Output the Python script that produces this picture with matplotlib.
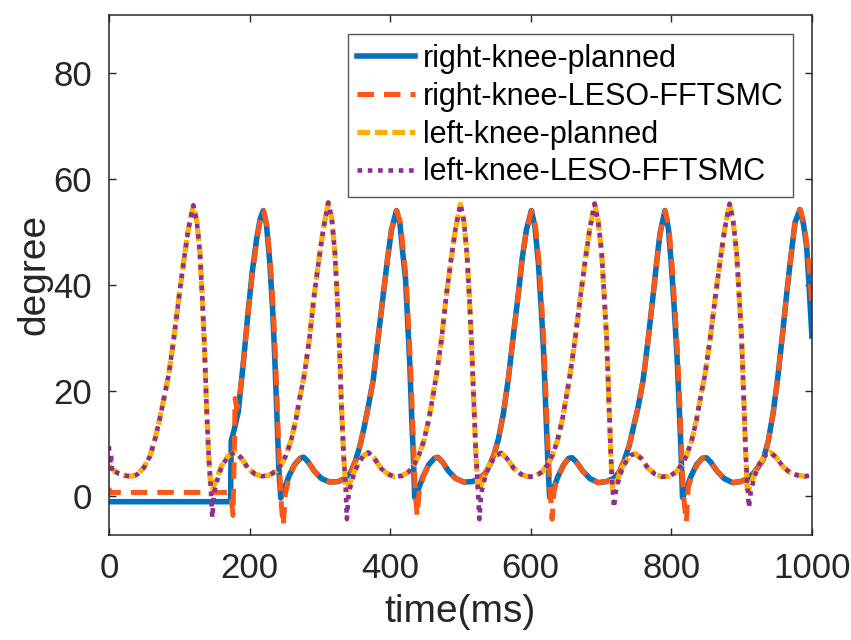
import matplotlib
matplotlib.use('Agg')
import matplotlib.pyplot as plt

# right knee planned trajectory (time in ms, angle in degree)
t_right_plan = [0, 173, 174, 178, 184, 191, 198, 204, 210, 215, 219.5, 224, 229, 233, 236, 239, 242, 244.5,
                249, 256, 264, 272, 277, 283, 292, 302, 314, 326, 336, 344, 351, 357, 363, 369, 376, 383, 390, 396, 402, 409,
                414, 418, 422, 425, 428, 431, 433, 435,
                440, 447, 455, 463, 468, 474, 483, 493, 505, 517, 527, 535, 542, 548, 554, 561, 568, 575, 582, 588, 594, 601,
                606, 611, 615, 618, 621, 624, 627,
                632, 639, 647, 654, 659, 665, 674, 684, 696, 708, 718, 726, 733, 740, 747, 753, 760, 767, 774, 779, 784, 791,
                796, 800, 804, 808, 811, 814, 816,
                821, 828, 836, 844, 850, 856, 865, 875, 887, 899, 909, 917, 924, 931, 938, 945, 952, 959, 964, 969, 976, 983,
                988, 992.5, 996, 1000]
right_plan = [-1, -1, 10.5, 12.5, 16, 25, 34.8, 42.5, 48.5, 52.3, 54.0, 51.5, 44, 35, 26, 15, 4.5, -0.3,
              1.3, 3.8, 6.0, 7.2, 7.4, 6.6, 4.8, 3.4, 2.7, 2.8, 3.4, 4.6, 6.8, 9.5, 13, 17, 22, 30, 37.8, 44.5, 50.4, 54.0,
              51.5, 46, 41, 33, 25, 14, 8, -0.2,
              1.3, 3.8, 6.0, 7.2, 7.4, 6.6, 4.8, 3.4, 2.7, 2.8, 3.4, 4.3, 6.0, 8.0, 10.8, 15.5, 22, 30, 37.8, 45, 50.4, 54.0,
              51, 44, 35.5, 28.4, 18, 8, -0.2,
              1.3, 3.8, 6.0, 7.2, 7.3, 6.5, 4.8, 3.4, 2.6, 2.8, 3.4, 4.6, 6.8, 9.5, 13.5, 17, 22, 29.5, 37.8, 44, 49.7, 54.0,
              50.5, 44, 36, 27, 18, 8, -0.2,
              1.3, 3.8, 6.0, 7.2, 7.3, 6.5, 4.8, 3.4, 2.6, 2.8, 3.4, 4.4, 5.6, 7.0, 10.5, 15.8, 23, 31.6, 38, 44, 51.7, 54.2,
              51.5, 47.3, 40, 30.3]

# right knee tracked by LESO-FFTSMC
t_right_ctrl = [0, 1.5, 3, 172, 174.5, 176.5, 178, 179.5, 182, 186, 191, 198, 204, 210, 215, 220, 225, 230, 234, 237, 240, 243, 245.5, 248, 251,
                256, 264, 272, 277, 283, 292, 302, 314, 326, 336, 344, 351, 357, 363, 369, 376, 383, 390, 396, 402, 409.5,
                415, 419, 423, 426, 429, 432, 434, 436, 438.5, 441, 443,
                448, 455, 463, 468, 474, 483, 493, 505, 517, 527, 535, 542, 548, 554, 561, 568, 575, 582, 588, 594, 601.5,
                607, 612, 616, 619, 622, 625, 628, 630.5, 633, 636,
                640, 647, 654, 659, 665, 674, 684, 696, 708, 718, 726, 733, 740, 747, 753, 760, 767, 774, 779, 784, 791.5,
                797, 801, 805, 809, 812, 815, 817, 819, 821.5, 824, 827,
                832, 838, 844, 850, 856, 865, 875, 887, 899, 909, 917, 924, 931, 938, 945, 952, 959, 964, 969, 976, 983.5,
                989, 993.5, 997, 1000]
right_ctrl = [1.6, 0.6, 0.75, 0.75, -1, -3.6, 6, 18.5, 16.5, 19, 25, 34.5, 42, 48, 52, 54.0, 51, 43.5, 35, 26, 15, 4.5, -2, -5.5, 0.5,
              3.5, 6.0, 7.2, 7.4, 6.6, 4.8, 3.4, 2.7, 2.8, 3.4, 4.6, 6.8, 9.5, 13, 17, 22, 30, 37.8, 44.5, 50.4, 54.0,
              51.5, 46, 41, 33, 25, 14, 8, 0.5, -3.7, 0.5, 1.8,
              4.0, 6.0, 7.2, 7.4, 6.6, 4.8, 3.4, 2.7, 2.8, 3.4, 4.3, 6.0, 8.0, 10.8, 15.5, 22, 30, 37.8, 45, 50.4, 54.0,
              51, 44, 35.5, 28.4, 18, 8, 0.5, -4.3, 0.8, 2.5,
              4.0, 6.0, 7.2, 7.3, 6.5, 4.8, 3.4, 2.6, 2.8, 3.4, 4.6, 6.8, 9.5, 13.5, 17, 22, 29.5, 37.8, 44, 49.7, 54.0,
              50.5, 44, 36, 27, 18, 8, 1, -2, -4.9, 1.5, 3.0,
              4.8, 6.2, 7.2, 7.3, 6.5, 4.8, 3.4, 2.6, 2.8, 3.4, 4.4, 5.6, 7.0, 10.5, 15.8, 23, 31.6, 38, 44, 51.7, 54.2,
              51.5, 47, 42, 36]

# left knee planned trajectory
t_left_plan = [0, 6, 14, 24, 32, 40, 50, 58, 65, 72, 79, 85, 92, 100, 107, 113, 120,
               125, 129.5, 133, 136, 139, 142, 145, 147, 152, 160, 170, 179, 188, 198, 208, 218, 228, 238, 246, 252, 259, 266, 272, 278, 285, 292, 299, 305, 312,
               317, 321.5, 325, 328, 331, 334, 337, 339, 344, 352, 362, 369, 377, 387, 397, 407, 417, 427, 435, 441, 448, 455, 461, 466, 473, 480, 487, 493, 500,
               505, 509.5, 513, 516, 519, 522, 525, 527, 532, 540, 550, 558, 566, 576, 586, 596, 606, 616, 625, 631, 638, 645, 651, 656, 663, 671, 678, 684, 691,
               696, 701, 704.5, 708, 711, 714, 716.5, 718.5, 723, 731, 741, 749, 757, 767, 777, 787, 797, 807, 816, 822, 829, 836, 842, 848, 855, 863, 870, 876, 883,
               888, 893, 896.5, 900, 903, 906, 908, 910, 915, 923, 933, 941, 949, 959, 969, 979, 990, 1000]
left_plan = [5.8, 5.0, 4.3, 3.9, 3.8, 4.1, 5.5, 7.5, 10.5, 14.5, 19, 23, 29.5, 38, 45, 50.5, 54.8,
             52, 46, 37, 28, 16.5, 7.5, 1.5, 1.2, 3.0, 5.7, 7.7, 8.3, 7.3, 5.3, 4.2, 3.8, 4.0, 4.8, 6.2, 7.8, 10.5, 14.5, 19, 23, 29.5, 38, 45, 50.5, 55.5,
             52.5, 46, 37, 28, 16.5, 7.5, 1.5, 1.2, 3.0, 5.7, 7.7, 8.3, 7.3, 5.3, 4.2, 3.7, 3.9, 4.7, 6.2, 7.8, 10.5, 14.5, 19, 23, 29.5, 38, 45, 50.5, 55.2,
             52, 45.5, 37, 28.5, 18, 8, 1.5, 1.2, 3.0, 5.7, 7.7, 8.2, 7.2, 5.3, 4.2, 3.7, 3.8, 4.6, 6.2, 7.8, 10.5, 14.5, 19, 23, 29.5, 38, 45, 50.5, 55.3,
             52, 46, 38, 30, 19, 8, 1.5, 1.2, 3.0, 5.7, 7.7, 8.1, 7.2, 5.3, 4.2, 3.7, 3.8, 4.6, 6.2, 7.8, 10.5, 14.5, 19, 23, 29.5, 38, 45, 50.5, 55.3,
             52, 46, 38, 30, 19, 8, 1.5, 1.2, 3.0, 5.7, 7.7, 8.3, 7.4, 5.6, 4.5, 4.0, 3.8, 4.0]

# left knee tracked by LESO-FFTSMC
t_left_ctrl = [0, 1.5, 3, 4.5, 7, 14, 24, 32, 40, 50, 58, 65, 72, 79, 85, 92, 100, 107, 113, 120,
               125, 129.5, 133, 136, 139, 142, 144.5, 147, 149.5, 152, 156, 162, 170, 179, 188, 198, 208, 218, 228, 238, 246, 252, 259, 266, 272, 278, 285, 292, 299, 305, 312,
               317, 321.5, 325, 328, 331, 334, 336.5, 338.5, 341, 344, 348, 354, 362, 369, 377, 387, 397, 407, 417, 427, 435, 441, 448, 455, 461, 466, 473, 480, 487, 493, 500,
               505, 509.5, 513, 516, 519, 522, 524.5, 527, 529.5, 532, 536, 542, 550, 558, 566, 576, 586, 596, 606, 616, 625, 631, 638, 645, 651, 656, 663, 671, 678, 684, 691,
               696, 701, 704.5, 708, 711, 714, 716, 718.5, 721, 723.5, 727, 733, 741, 749, 757, 767, 777, 787, 797, 807, 816, 822, 829, 836, 842, 848, 855, 863, 870, 876, 883,
               888, 893, 896.5, 900, 903, 906, 908, 910.5, 913, 915.5, 919, 925, 933, 941, 949, 959, 969, 979, 990, 1000]
left_ctrl = [9.5, 6.0, 8.0, 4.5, 4.8, 4.3, 3.9, 3.8, 4.1, 5.5, 7.5, 10.5, 14.5, 19, 23, 29.5, 38, 45, 50.5, 55.0,
             52, 46, 37, 28, 16.5, 7.5, 2.5, -4.0, 0.5, 2.0, 4.0, 6.0, 7.7, 8.3, 7.3, 5.3, 4.2, 3.8, 4.0, 4.8, 6.2, 7.8, 10.5, 14.5, 19, 23, 29.5, 38, 45, 50.5, 55.5,
             52.5, 46, 37, 28, 16.5, 7.5, 2.5, -4.3, 0.5, 2.0, 4.0, 6.0, 7.7, 8.3, 7.3, 5.3, 4.2, 3.7, 3.9, 4.7, 6.2, 7.8, 10.5, 14.5, 19, 23, 29.5, 38, 45, 50.5, 55.2,
             52, 45.5, 37, 28.5, 18, 8, 2.5, -4.3, 0.5, 2.0, 4.0, 6.0, 7.7, 8.2, 7.2, 5.3, 4.2, 3.7, 3.8, 4.6, 6.2, 7.8, 10.5, 14.5, 19, 23, 29.5, 38, 45, 50.5, 55.3,
             52, 46, 38, 30, 19, 8, 2.5, -2.1, 0.8, 2.2, 4.0, 6.0, 7.7, 8.1, 7.2, 5.3, 4.2, 3.7, 3.8, 4.6, 6.2, 7.8, 10.5, 14.5, 19, 23, 29.5, 38, 45, 50.5, 55.3,
             52, 46, 38, 30, 19, 8, 2.5, -2.1, 0.8, 2.2, 4.0, 6.0, 7.7, 8.3, 7.4, 5.6, 4.5, 4.0, 3.8, 4.0]

labels = ['right-knee-planned', 'right-knee-LESO-FFTSMC', 'left-knee-planned', 'left-knee-LESO-FFTSMC']
x_ticks = [0, 200, 400, 600, 800, 1000]
y_ticks = [0, 20, 40, 60, 80]

plt.rcParams['font.family'] = ['Liberation Sans', 'DejaVu Sans']
axis_col = '#262626'

fig = plt.figure(figsize=(8.51, 6.40), dpi=100)
ax = fig.add_axes([0.128, 0.164, 0.826, 0.813])

ax.plot(t_right_plan, right_plan, color='#0072BD', lw=4.0, label=labels[0], solid_joinstyle='round')
ax.plot(t_right_ctrl, right_ctrl, color='#FF5714', lw=3.6, dashes=(3.3, 2.0), dash_capstyle='butt', label=labels[1])
ax.plot(t_left_plan, left_plan, color='#FFB000', lw=3.8, dashes=(2.4, 0.9), dash_capstyle='butt', label=labels[2])
ax.plot(t_left_ctrl, left_ctrl, color='#8B2E96', lw=3.3, dashes=(1.0, 1.25), dash_capstyle='butt', label=labels[3])

ax.set_xlim(0, 1000)
ax.set_ylim(-7.3, 91)
ax.set_xticks(x_ticks)
ax.set_yticks(y_ticks)
ax.tick_params(direction='in', length=5, width=1, top=True, right=True,
               labelsize=25, colors=axis_col, pad=12)
for s in ax.spines.values():
    s.set_color(axis_col)
    s.set_linewidth(1.1)

ax.set_xlabel('time(ms)', fontsize=28, color=axis_col, labelpad=7)
ax.set_ylabel('degree', fontsize=28, color=axis_col, labelpad=1)

leg = ax.legend(loc='upper right', bbox_to_anchor=(0.973, 0.962), fontsize=22, frameon=True,
                fancybox=False, edgecolor='#555555', framealpha=1, handlelength=1.9,
                handletextpad=0.25, labelspacing=0.26, borderpad=0.3, borderaxespad=0)
leg.get_frame().set_linewidth(1.0)

plt.savefig('out.png', dpi=100)
